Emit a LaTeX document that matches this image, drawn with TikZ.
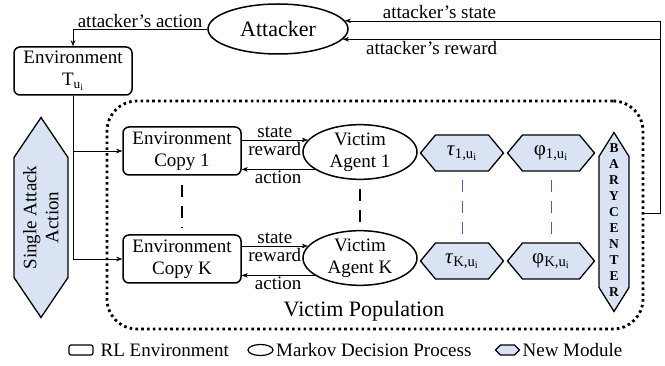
\documentclass[tikz,border=0pt]{standalone}
\usepackage{fontspec}
\setmainfont{Liberation Serif}
\usepackage{tikz}
\usetikzlibrary{arrows.meta, positioning, shapes.geometric, backgrounds}
\definecolor{modFill}{HTML}{DAE3F3}
\definecolor{dashBlue}{HTML}{4062A8}
\newcommand{\midfont}{\fontsize{19pt}{22pt}\selectfont}
\newcommand{\bigfont}{\fontsize{22pt}{26pt}\selectfont}
\newcommand{\hexfont}{\fontsize{21pt}{24pt}\selectfont}
\newcommand{\barfont}{\fontsize{13.5pt}{16pt}\selectfont\bfseries}
% hexagon round a node, tips left/right (#1 node, #2 tip depth)
\newcommand{\hexH}[2]{\draw[hexline] (#1.west) -- ([xshift=#2]#1.north west) -- ([xshift=-#2]#1.north east)
  -- (#1.east) -- ([xshift=-#2]#1.south east) -- ([xshift=#2]#1.south west) -- cycle;}
% hexagon round a node, tips up/down
\newcommand{\hexV}[2]{\draw[hexline] (#1.north) -- ([yshift=-#2]#1.north east) -- ([yshift=#2]#1.south east)
  -- (#1.south) -- ([yshift=#2]#1.south west) -- ([yshift=-#2]#1.north west) -- cycle;}

\tikzset{
  envbox/.style={draw, line width=1.5pt, rounded corners=6pt, minimum width=118pt, minimum height=48pt, inner sep=0pt, align=center, font=\midfont},
  mdp/.style={draw, ellipse, line width=1.5pt, minimum width=114pt, minimum height=54pt, inner sep=0pt, align=center, font=\midfont},
  lbl/.style={inner sep=1.5pt, font=\midfont},
  vdash/.style={line width=1.2pt, dash pattern=on 12pt off 9pt, shorten <=9pt, shorten >=7pt},
  popbox/.style={draw, line width=2.8pt, dash pattern=on 2.6pt off 3.2pt, rounded corners=30pt, minimum width=536pt, minimum height=228pt},
  modbox/.style n args={2}{minimum width=#1, minimum height=#2, inner sep=0pt, outer sep=0pt, align=center},
  hexline/.style={line width=1.3pt, fill=modFill, line join=miter}
}

\begin{document}
\begin{tikzpicture}[x=1pt, y=-1pt, >={Stealth[length=6pt, width=4.5pt]}, line width=1.2pt]
    \useasboundingbox (0,0) rectangle (665,366);

    % attacker and its environment
    \node[mdp, minimum width=140pt, minimum height=50pt, font=\bigfont] (att) at (278,29) {Attacker};
    \node[envbox] (envT) at (73,71) {Environment\\T\textsubscript{u\textsubscript{i}}};
    \node[modbox={54pt}{200pt}] (single) at (41,217.5) {};
    \node[rotate=90, align=center, font=\midfont, inner sep=0pt] (singleTxt) at (single) {Single Attack\\Action};

    % victim population
    \node[popbox] (pop) at (375,215) {};
    \node[envbox] (copy1) at (182,151) {Environment\\Copy 1};
    \node[envbox] (copyK) at (182,259) {Environment\\Copy K};
    \node[mdp] (vic1) at (360,152) {Victim\\Agent 1};
    \node[mdp] (vicK) at (360,258) {Victim\\Agent K};
    \node[modbox={83pt}{36pt}, font=\hexfont] (tau1) at (462,153) {\textit{τ}\textsubscript{1,u\textsubscript{i}}};
    \node[modbox={87pt}{36pt}, font=\hexfont] (phi1) at (551,153) {φ\textsubscript{1,u\textsubscript{i}}};
    \node[modbox={83pt}{36pt}, font=\hexfont] (tauK) at (462,261) {\textit{τ}\textsubscript{K,u\textsubscript{i}}};
    \node[modbox={87pt}{36pt}, font=\hexfont] (phiK) at (551,261) {φ\textsubscript{K,u\textsubscript{i}}};
    \node[modbox={30pt}{179pt}] (bary) at (614,222) {};
    \node[font=\barfont, align=center, inner sep=0pt] (baryTxt) at (614,220) {B\\A\\R\\Y\\C\\E\\N\\T\\E\\R};
    \node[font=\bigfont] (popTxt) at (364,311) {Victim Population};

    % legend
    \node[draw, line width=1.2pt, rounded corners=2pt, minimum width=24pt, minimum height=10pt, inner sep=0pt] (legEnv) at (81,350) {};
    \node[lbl, right=5pt of legEnv] (legEnvTxt) {RL Environment};
    \node[draw, ellipse, line width=1.2pt, minimum width=25pt, minimum height=11pt, inner sep=0pt] (legMdp) at (260.5,350) {};
    \node[lbl, right=0.5pt of legMdp] (legMdpTxt) {Markov Decision Process};
    \node[modbox={24pt}{10pt}] (legMod) at (507.5,350) {};
    \node[lbl, right=1pt of legMod] (legModTxt) {New Module};

    % new modules
    \begin{pgfonlayer}{background}
        \hexV{single}{40pt}
        \hexV{bary}{24pt}
        \hexH{tau1}{15pt}
        \hexH{phi1}{15pt}
        \hexH{tauK}{15pt}
        \hexH{phiK}{15pt}
        \hexH{legMod}{5pt}
    \end{pgfonlayer}

    % attacker loop
    \draw[->] (att.west) -| node[lbl, pos=0.25, above] (actTxt) {attacker's action} (envT.north);
    \coordinate (fb) at (660,213);
    \draw[->] (pop.east |- fb) -- (fb) |- node[lbl, pos=0.85, above] (stTxt) {attacker's state} (att.7);
    \draw[->] (fb) |- node[lbl, pos=0.86, below] (rwTxt) {attacker's reward} (att.-9);
    \draw[->] (envT.south) |- (copy1.west);
    \draw[->] (envT.south) |- (copyK.west);

    % environment copies and victims
    \draw[->] (copy1.east |- vic1.167) -- node[lbl, above=1pt] (st1) {state} node[lbl, below=0.8pt] (rw1) {reward} (vic1.167);
    \draw[->] (vic1.201) -- node[lbl, below] (ac1) {action} (copy1.east |- vic1.201);
    \draw[->] (copyK.east |- vicK.167) -- node[lbl, above=1pt] (stK) {state} node[lbl, below=0.8pt] (rwK) {reward} (vicK.167);
    \draw[->] (vicK.201) -- node[lbl, below] (acK) {action} (copyK.east |- vicK.201);

    \draw[vdash] (copy1.south) -- (copyK.north);
    \draw[vdash] (vic1.south) -- (vicK.north);
    \draw[vdash, dashBlue, line width=1pt] (tau1.south) -- (tauK.north);
    \draw[vdash, dashBlue, line width=1pt] (phi1.south) -- (phiK.north);
\end{tikzpicture}
\end{document}
